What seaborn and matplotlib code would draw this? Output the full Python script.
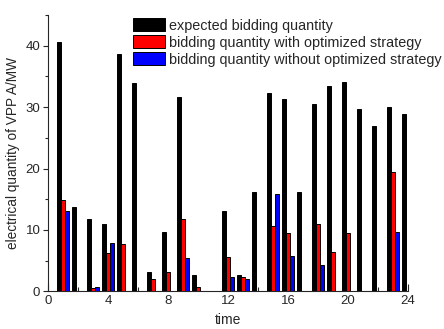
import matplotlib
matplotlib.use("Agg")
import matplotlib.pyplot as plt
from matplotlib.ticker import MultipleLocator
import seaborn as sns
import pandas as pd

hours = list(range(1, 25))
expected = [40.6, 13.8, 11.8, 10.9, 38.7, 34.0, 3.1, 9.7, 31.6, 2.7, 0.0, 13.1,
            2.7, 16.2, 32.3, 31.4, 16.1, 30.5, 33.4, 34.1, 29.7, 27.0, 30.0, 28.8]
with_opt = [14.8, 0.0, 0.5, 6.2, 7.7, 0.0, 2.0, 3.15, 11.7, 0.75, 0.0, 5.65,
            2.35, 0.0, 10.7, 9.5, 0.0, 10.9, 6.4, 9.5, 0.0, 0.0, 19.5, 0.0]
without_opt = [13.0, 0.0, 0.75, 7.8, 0.0, 0.0, 0.0, 0.0, 5.4, 0.0, 0.0, 2.4,
               2.0, 0.0, 15.9, 5.75, 0.0, 4.3, 0.0, 0.0, 0.0, 0.0, 9.6, 0.0]
series_names = ["expected bidding quantity",
                "bidding quantity with optimized strategy",
                "bidding quantity without optimized strategy"]
colors = ["#000000", "#ff0000", "#0000ff"]

rows = []
for name, vals in zip(series_names, [expected, with_opt, without_opt]):
    for h, v in zip(hours, vals):
        rows.append({"time": h, "value": v, "series": name})
df = pd.DataFrame(rows)

sns.set_style("ticks")
plt.rcParams["font.family"] = ["Liberation Sans", "DejaVu Sans"]

fig = plt.figure(figsize=(4.44, 3.29), dpi=100)
ax = fig.add_axes([48 / 444, 1 - 291.3 / 329, 360 / 444, (291.3 - 15) / 329])

sns.barplot(data=df, x="time", y="value", hue="series", native_scale=True,
            palette=colors, width=0.82, edgecolor="black", linewidth=0.7,
            saturation=1, ax=ax, errorbar=None)

ax.set_xlim(0, 24)
ax.set_ylim(0, 45)
ax.xaxis.set_major_locator(MultipleLocator(4))
ax.xaxis.set_minor_locator(MultipleLocator(2))
ax.yaxis.set_major_locator(MultipleLocator(10))
ax.yaxis.set_minor_locator(MultipleLocator(5))
ax.tick_params(axis="x", which="major", direction="in", length=5, width=0.8, labelsize=9.5, pad=3)
ax.tick_params(axis="x", which="minor", direction="in", length=3, width=0.8)
ax.tick_params(axis="y", which="major", direction="out", length=3.5, width=0.8, labelsize=9.5, pad=2)
ax.tick_params(axis="y", which="minor", direction="out", length=2, width=0.8)
for s in ["top", "right"]:
    ax.spines[s].set_visible(False)
for s in ["left", "bottom"]:
    ax.spines[s].set_linewidth(0.8)

ax.set_xlabel("time", fontsize=10, labelpad=4)
ax.set_ylabel("electrical quantity of VPP A/MW", fontsize=9.8, labelpad=4)

handles, labels = ax.get_legend_handles_labels()
if ax.get_legend() is not None:
    ax.get_legend().remove()
fig.legend(handles, labels, loc="upper left", bbox_to_anchor=(133 / 444, 1 - 18 / 329),
           frameon=False, fontsize=10.4, handlelength=2.2, handleheight=1.04,
           labelspacing=0.17, handletextpad=0.3, borderpad=0, borderaxespad=0)

fig.savefig("out.png", dpi=100)
